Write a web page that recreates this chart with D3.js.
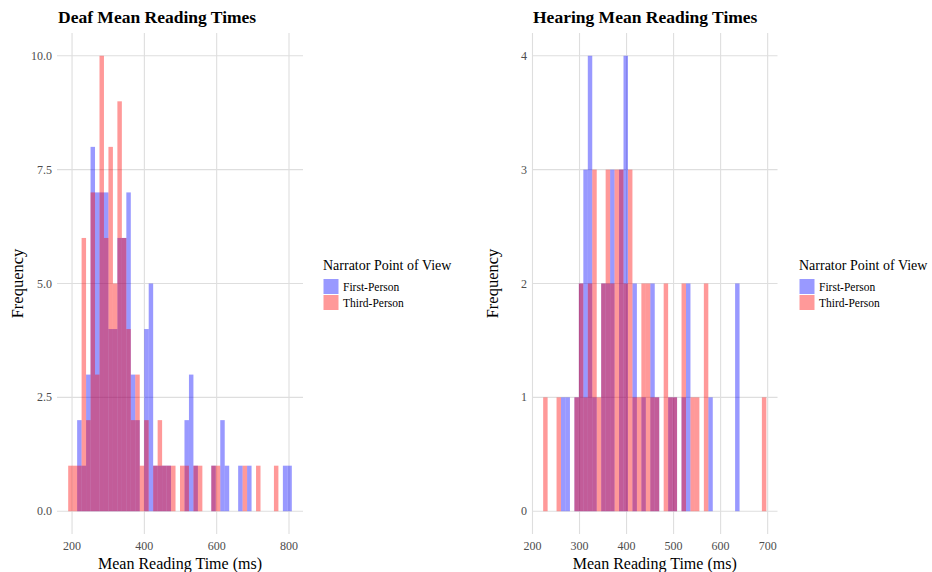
<!DOCTYPE html>
<html>
<head>
<meta charset="utf-8">
<script src="https://cdn.jsdelivr.net/npm/d3@7"></script>
<style>
  body { margin: 0; background: #fff; }
  text { font-family: "Liberation Serif", "Times New Roman", serif; }
</style>
</head>
<body>
<div id="chart"></div>
<script>
// histogram bins (50 bins each), counts
const deafBinStart = 189.3;
const deafBinWidth = 12.37;
const deafFirst = [0,0,2,1,3,8,7,7,7,4,4,6,6,7,3,2,0,4,5,1,1,1,1,0,0,0,2,3,1,0,0,0,1,0,2,1,0,0,1,0,1,0,0,0,0,0,0,0,1,1];
const deafThird = [1,1,1,6,2,7,3,10,6,8,5,9,6,4,2,3,1,2,0,1,2,1,1,1,0,1,1,0,1,1,0,0,1,1,0,0,0,0,0,1,0,0,1,0,0,0,1,0,0,0];

const hearingBinStart = 222.7;
const hearingBinWidth = 9.49;
const hearingFirst = [0,0,0,0,1,1,0,1,2,3,4,1,0,2,2,3,0,3,4,0,2,0,1,0,2,1,0,0,1,1,0,1,2,0,0,0,0,1,0,0,0,0,0,2,0,0,0,0,0,0];
const hearingThird = [1,0,0,1,0,0,0,1,2,1,2,3,1,2,3,2,3,3,2,3,1,1,2,2,1,1,0,2,1,1,0,2,0,1,1,0,2,0,0,0,0,0,0,0,0,0,0,0,0,1];

const deafXTicks = [200, 400, 600, 800];
const deafYTicks = [0, 2.5, 5, 7.5, 10];
const hearingXTicks = [200, 300, 400, 500, 600, 700];
const hearingYTicks = [0, 1, 2, 3, 4];

const groups = ["First-Person", "Third-Person"];
const colors = { "First-Person": "#0000ff", "Third-Person": "#ff0000" };

const width = 932, height = 572;
const plotTop = 33, plotBottom = 534;

const svg = d3.select("#chart").append("svg")
  .attr("width", width)
  .attr("height", height);

const drawPanel = (opt) => {
  const nBins = opt.first.length;
  const span = nBins * opt.binWidth;
  const lo = opt.binStart - 0.05 * span;
  const hi = opt.binStart + span + 0.05 * span;
  const yMax = d3.max(opt.yTicks);

  const x = d3.scaleLinear().domain([lo, hi]).range([opt.left, opt.right]);
  const y = d3.scaleLinear().domain([-0.05 * yMax, yMax * 1.05]).range([plotBottom, plotTop]);

  const g = svg.append("g");

  // grid
  g.selectAll(".vgrid").data(opt.xTicks).enter().append("line")
    .attr("x1", d => x(d)).attr("x2", d => x(d))
    .attr("y1", plotTop).attr("y2", plotBottom)
    .attr("stroke", "#dedede").attr("stroke-width", 1.1);
  g.selectAll(".hgrid").data(opt.yTicks).enter().append("line")
    .attr("x1", opt.left).attr("x2", opt.right)
    .attr("y1", d => y(d)).attr("y2", d => y(d))
    .attr("stroke", "#dedede").attr("stroke-width", 1.1);

  // bars: first-person underneath, third-person on top
  [[opt.first, "First-Person"], [opt.third, "Third-Person"]].forEach(([counts, grp]) => {
    const bins = counts.map((c, i) => ({
      x0: opt.binStart + i * opt.binWidth,
      x1: opt.binStart + (i + 1) * opt.binWidth,
      count: c,
    })).filter(d => d.count > 0);
    g.append("g").selectAll("rect").data(bins).enter().append("rect")
      .attr("x", d => x(d.x0))
      .attr("width", d => x(d.x1) - x(d.x0))
      .attr("y", d => y(d.count))
      .attr("height", d => y(0) - y(d.count))
      .attr("fill", colors[grp])
      .attr("fill-opacity", 0.4);
  });

  // tick labels
  g.selectAll(".xt").data(opt.xTicks).enter().append("text")
    .attr("x", d => x(d)).attr("y", 550)
    .attr("text-anchor", "middle")
    .attr("font-size", 12).attr("fill", "#4d4d4d")
    .text(d => d);
  g.selectAll(".yt").data(opt.yTicks).enter().append("text")
    .attr("x", opt.left - 5).attr("y", d => y(d) + 4)
    .attr("text-anchor", "end")
    .attr("font-size", 12).attr("fill", "#4d4d4d")
    .text(opt.yFormat);

  // titles
  g.append("text")
    .attr("x", opt.left + 1).attr("y", 23)
    .attr("font-size", 17.5).attr("font-weight", "bold")
    .text(opt.title);
  g.append("text")
    .attr("x", (opt.left + opt.right) / 2).attr("y", 569)
    .attr("text-anchor", "middle").attr("font-size", 16)
    .text("Mean Reading Time (ms)");
  g.append("text")
    .attr("transform", `translate(${opt.left - 34},${(plotTop + plotBottom) / 2}) rotate(-90)`)
    .attr("text-anchor", "middle").attr("font-size", 16.5)
    .text("Frequency");

  // legend
  const lg = g.append("g").attr("transform", `translate(${opt.legendX},0)`);
  lg.append("text").attr("x", 0).attr("y", 270)
    .attr("font-size", 14).text("Narrator Point of View");
  groups.forEach((grp, i) => {
    lg.append("rect")
      .attr("x", 0.5).attr("y", 279 + i * 16)
      .attr("width", 15).attr("height", 15)
      .attr("fill", colors[grp]).attr("fill-opacity", 0.4);
    lg.append("text")
      .attr("x", 20).attr("y", 291 + i * 16)
      .attr("font-size", 11.5).text(grp);
  });
};

drawPanel({
  title: "Deaf Mean Reading Times",
  binStart: deafBinStart, binWidth: deafBinWidth,
  first: deafFirst, third: deafThird,
  xTicks: deafXTicks, yTicks: deafYTicks,
  yFormat: d3.format(".1f"),
  left: 57, right: 303, legendX: 323,
});

drawPanel({
  title: "Hearing Mean Reading Times",
  binStart: hearingBinStart, binWidth: hearingBinWidth,
  first: hearingFirst, third: hearingThird,
  xTicks: hearingXTicks, yTicks: hearingYTicks,
  yFormat: d3.format("d"),
  left: 532, right: 777.5, legendX: 799,
});
</script>
</body>
</html>
